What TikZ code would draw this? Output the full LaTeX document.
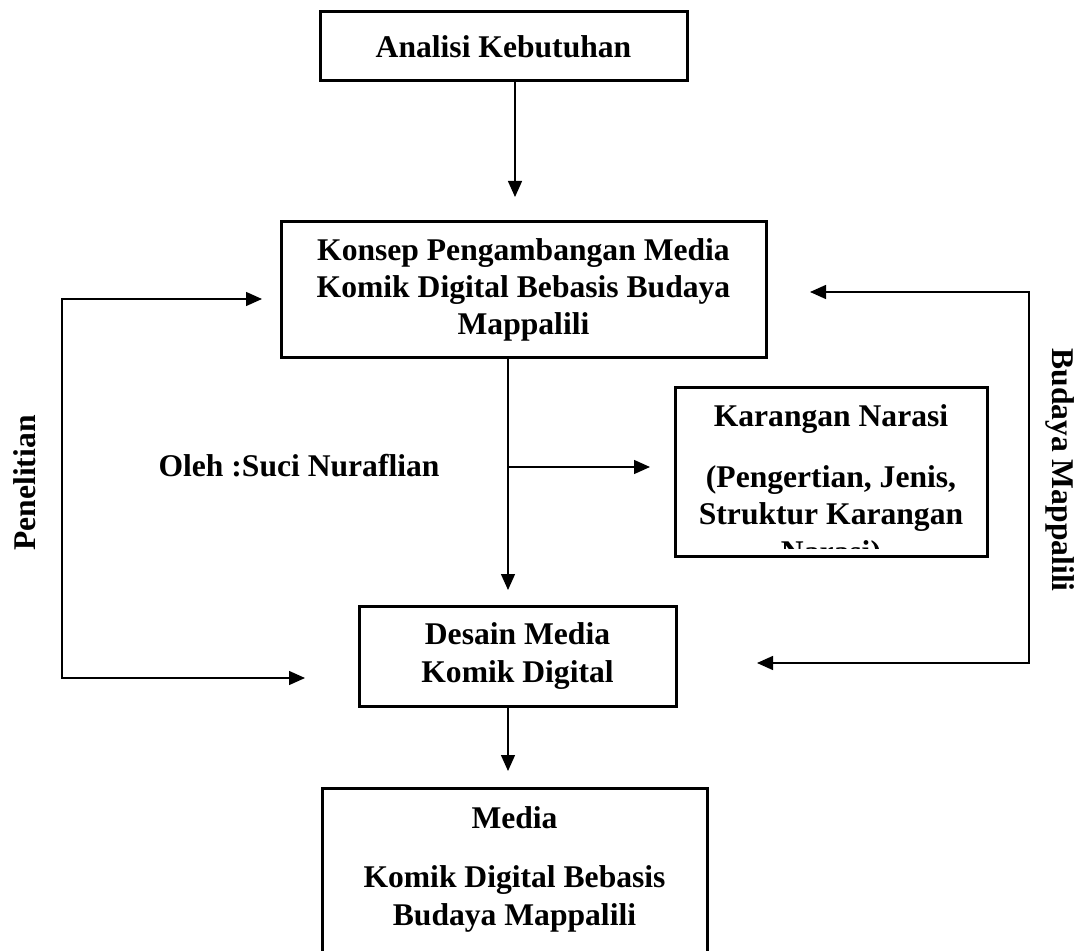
\documentclass[tikz,border=0pt]{standalone}
\usepackage{fontspec}
\setmainfont{Liberation Serif}
\usetikzlibrary{arrows.meta,positioning}
\begin{document}
\begin{tikzpicture}[
            x=0.5pt, y=-0.5pt,
            font=\fontsize{15.8}{18.7}\selectfont\bfseries,
            box/.style={draw, line width=1.5pt, align=center, inner sep=0pt},
            txt/.style={align=center, inner sep=0pt},
            arr/.style={line width=0.7pt, -{Triangle[length=8pt,width=7pt]}},
            twoway/.style={line width=0.7pt, {Triangle[length=8pt,width=7pt]}-{Triangle[length=8pt,width=7pt]}}
        ]
        \useasboundingbox (0,0) rectangle (1080,951);

        \node[box, minimum width=183.5pt, minimum height=34.5pt] (ana) at (503.5,46.5) {Analisi Kebutuhan};
        \node[box, minimum width=242.5pt, minimum height=68pt] (konsep) at (523.5,290)
            {Konsep Pengambangan Media\\Komik Digital Bebasis Budaya\\Mappalili};
        \node[box, minimum width=156pt, minimum height=84pt] (karangan) at (831,472) {};
        \begin{scope}
            \clip (karangan.north west) rectangle ([yshift=4.5pt]karangan.south east);
            \node[txt, below=9pt] (narasi) at (karangan.north)
                {Karangan Narasi\\[11.5pt](Pengertian, Jenis,\\Struktur Karangan\\Narasi)};
        \end{scope}
        \node[box, minimum width=158.5pt, minimum height=50pt] (desain) at (517.5,656)
            {Desain Media\\Komik Digital};
        \node[box, anchor=north, minimum width=192.5pt, minimum height=100pt] (media) at (514.5,787) {};
        \node[txt, below=9.5pt] (mediatxt) at (media.north)
            {Media\\[11pt]Komik Digital Bebasis\\Budaya Mappalili};

        \node[txt] (oleh) at (299,466) {Oleh :Suci Nuraflian};
        \node[txt, rotate=90] (penelitian) at (25,483) {Penelitian};
        \node[txt, rotate=-90] (budaya) at (1060,470) {Budaya Mappalili};

        \coordinate (a1) at (515,197);
        \coordinate (a2) at (508,590);
        \coordinate (br) at (508,467);
        \coordinate (a3) at (650,467);
        \coordinate (a4) at (508,771);
        \coordinate (lt) at (262,299);
        \coordinate (lb) at (305,678);
        \coordinate (rt) at (810,292);
        \coordinate (rb) at (757,663);

        \draw[arr] (ana.south -| a1) -- (a1);
        \draw[arr] (konsep.south -| a2) -- (a2);
        \draw[arr] (br) -- (a3);
        \draw[arr] (desain.south -| a4) -- (a4);
        \draw[twoway] (lt) -- ++(-200,0) |- (lb);
        \draw[twoway] (rt) -- ++(219,0) |- (rb);
    \end{tikzpicture}
\end{document}
